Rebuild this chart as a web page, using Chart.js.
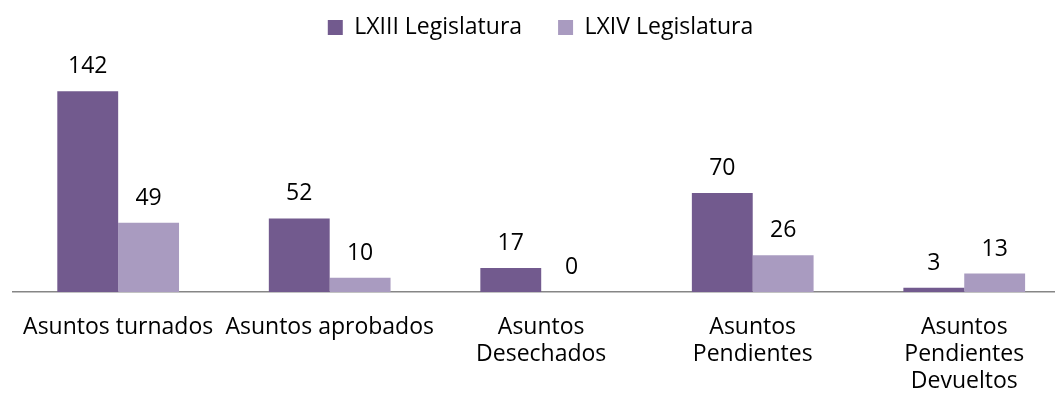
<!DOCTYPE html>
<html><head><meta charset="utf-8">
<script src="https://cdn.jsdelivr.net/npm/chart.js@4"></script>
<style>html,body{margin:0;padding:0;background:#fff;overflow:hidden;width:1055px;height:401px}canvas{display:block}</style>
</head><body>
<canvas id="c" width="1070" height="401"></canvas>
<script>
const categories = ["Asuntos turnados", "Asuntos aprobados", ["Asuntos", "Desechados"], ["Asuntos", "Pendientes"], ["Asuntos", "Pendientes", "Devueltos"]];
const seriesNames = ["LXIII Legislatura", "LXIV Legislatura"];
const lxiii = [142, 52, 17, 70, 3];
const lxiv = [49, 10, 0, 26, 13];
const colors = ["#725A8E", "#A99BC0"];
const FONT = "'Open Sans', sans-serif";

const labelPlugin = {
  id: 'valueLabels',
  afterDatasetsDraw(chart) {
    const ctx = chart.ctx;
    ctx.save();
    ctx.font = "23px " + FONT;
    ctx.fillStyle = "#000";
    ctx.textAlign = "center";
    ctx.textBaseline = "alphabetic";
    chart.data.datasets.forEach((ds, i) => {
      chart.getDatasetMeta(i).data.forEach((el, j) => {
        ctx.fillText(String(ds.data[j]), el.x, el.y - 18);
      });
    });
    ctx.restore();
  }
};

new Chart(document.getElementById('c'), {
  type: 'bar',
  data: {
    labels: categories,
    datasets: [
      { label: seriesNames[0], data: lxiii, backgroundColor: colors[0] },
      { label: seriesNames[1], data: lxiv, backgroundColor: colors[1] }
    ]
  },
  options: {
    responsive: false,
    animation: false,
    layout: { padding: { left: 11, right: 0, top: -20, bottom: 6 } },
    datasets: { bar: { categoryPercentage: 0.5755, barPercentage: 1.0 } },
    plugins: {
      legend: {
        position: 'top',
        labels: { boxWidth: 15, boxHeight: 15, padding: 36, color: '#000', font: { family: FONT, size: 23 } }
      },
      tooltip: { enabled: false }
    },
    scales: {
      x: {
        afterFit(scale) { scale.height = 103; },
        grid: { display: false, drawTicks: false },
        border: { display: true, color: '#868686', width: 1.5 },
        ticks: { color: '#000', font: { family: FONT, size: 23, lineHeight: 1.174 }, padding: 22, autoSkip: false, maxRotation: 0, minRotation: 0 }
      },
      y: { display: false, min: 0, max: 171.9 }
    }
  },
  plugins: [labelPlugin]
});
</script>
</body></html>
